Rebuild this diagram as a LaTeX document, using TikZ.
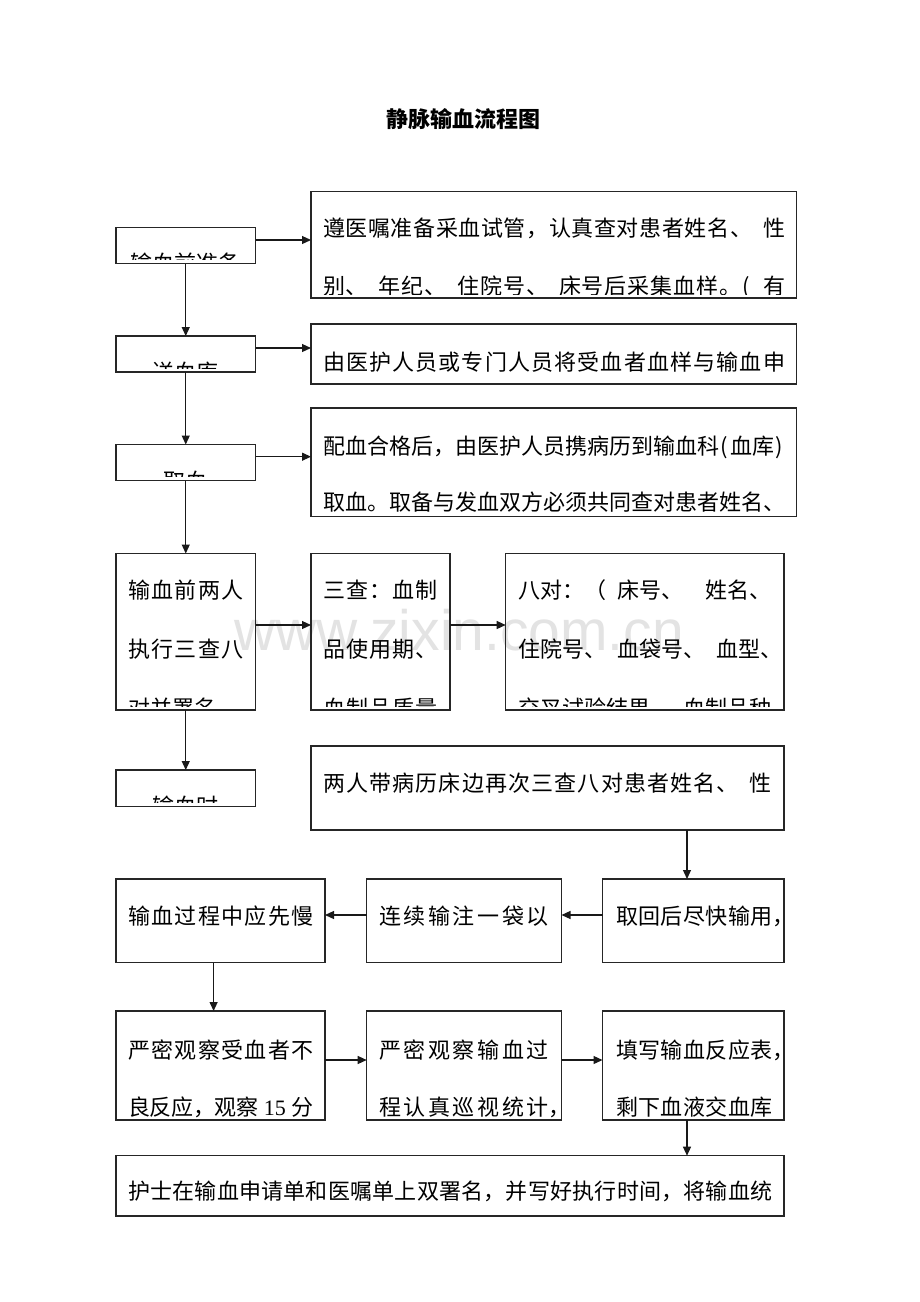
\documentclass[tikz,border=0pt]{standalone}
\usepackage{fontspec}
\setmainfont{Noto Sans CJK SC}
\newfontfamily\wmfont{Liberation Sans}
\newfontfamily\tnrfont{Liberation Serif}
\usetikzlibrary{arrows.meta}
\XeTeXinterchartokenstate=1
\newcount\cjkcnt
\cjkcnt="3000
\loop\ifnum\cjkcnt<"A000
  \XeTeXcharclass\cjkcnt=1
  \advance\cjkcnt by 1
\repeat
\cjkcnt="FF00
\loop\ifnum\cjkcnt<"FFF0
  \XeTeXcharclass\cjkcnt=1
  \advance\cjkcnt by 1
\repeat
\XeTeXinterchartoks 1 1 = {\hskip 0pt plus 1fil minus 1pt\relax}
\newcommand\kgsp{\hspace{11pt}}
\newcommand\hwc[1]{\makebox[11pt]{#1}}
\newcommand\jline[2]{\makebox[#1][s]{#2}}
\newcommand\boxclip[1]{\clip (#1.north west) rectangle ([yshift=4pt]#1.south east);}
\begin{document}
\begin{tikzpicture}[x=1pt,y=-1pt,
  box/.style={draw=black!85, line width=1.2pt, inner sep=0pt, outer sep=0pt, anchor=north west},
  txt/.style={anchor=base west, inner sep=0pt, outer sep=0pt, font=\fontsize{22}{22}\selectfont},
  ctxt/.style={txt, anchor=base},
  arr/.style={-{Triangle[length=9pt,width=8pt]}, line width=1.2pt, draw=black!90}]
\useasboundingbox (0,0) rectangle (920,1302);
\fill[white] (0,0) rectangle (920,1302);
% watermark
\node[anchor=base west, inner sep=0pt, text=black!11, font=\wmfont\fontsize{57}{57}\selectfont] (wm) at (234,650) {www.zixin.com.cn};
% title
\node[anchor=base, inner sep=0pt, font=\bfseries\fontsize{22}{22}\selectfont] (title) at (463.8,127) {静脉输血流程图};
% boxes
\node[box, minimum width=139.5pt, minimum height=36pt] (A1) at (116,227.5) {};
\node[box, minimum width=485.5pt, minimum height=106.5pt] (B1) at (311,191.5) {};
\node[box, minimum width=139.5pt, minimum height=36pt] (A2) at (116,336) {};
\node[box, minimum width=485.5pt, minimum height=60pt] (B2) at (311,324) {};
\node[box, minimum width=139.5pt, minimum height=36pt] (A3) at (116,444.5) {};
\node[box, minimum width=485.5pt, minimum height=108.5pt] (B3) at (311,408) {};
\node[box, minimum width=139.5pt, minimum height=156.5pt] (A4) at (116,553.5) {};
\node[box, minimum width=139pt, minimum height=156.5pt] (C4) at (311,553.5) {};
\node[box, minimum width=278.3pt, minimum height=156.5pt] (D4) at (505.7,553.5) {};
\node[box, minimum width=139.5pt, minimum height=36.5pt] (A5) at (116,770) {};
\node[box, minimum width=473pt, minimum height=84pt] (E5) at (311,746) {};
\node[box, minimum width=209pt, minimum height=83.7pt] (R6a) at (116,879) {};
\node[box, minimum width=194.8pt, minimum height=83.7pt] (R6b) at (366.7,879) {};
\node[box, minimum width=181.5pt, minimum height=83.7pt] (R6c) at (602.5,879) {};
\node[box, minimum width=209pt, minimum height=109pt] (R7a) at (116,1011) {};
\node[box, minimum width=194.8pt, minimum height=109pt] (R7b) at (366.7,1011) {};
\node[box, minimum width=181.5pt, minimum height=109pt] (R7c) at (602.5,1011) {};
\node[box, minimum width=668pt, minimum height=60.3pt] (R8) at (116,1155.7) {};
% texts
\begin{scope}\boxclip{A1}
  \node[ctxt] (tA1) at (185.75,271.5) {输血前准备};
\end{scope}
\begin{scope}\boxclip{B1}
  \node[txt] (tB1a) at (323,236) {\jline{462pt}{遵医嘱准备采血试管，认真查对患者姓名、\kgsp 性}};
  \node[txt] (tB1b) at (323,294.5) {\jline{462pt}{别、\kgsp 年纪、\kgsp 住院号、\kgsp 床号后采集血样。\hwc{(}\kgsp 有}};
\end{scope}
\begin{scope}\boxclip{A2}
  \node[ctxt] (tA2) at (185.75,380.5) {送血库};
\end{scope}
\begin{scope}\boxclip{B2}
  \node[txt] (tB2) at (323,370) {\jline{462pt}{由医护人员或专门人员将受血者血样与输血申}};
\end{scope}
\begin{scope}\boxclip{A3}
  \node[ctxt] (tA3) at (185.75,489.5) {取血};
\end{scope}
\begin{scope}\boxclip{B3}
  \node[txt] (tB3a) at (323,454) {\jline{462pt}{配血合格后，由医护人员携病历到输血科\hwc{(}血库\hwc{)}}};
  \node[txt] (tB3b) at (323,510.5) {\jline{462pt}{取血。取备与发血双方必须共同查对患者姓名、}};
\end{scope}
\begin{scope}\boxclip{A4}
  \node[txt] (tA4a) at (128.3,598) {\jline{115pt}{输血前两人}};
  \node[txt] (tA4b) at (128.3,657.5) {\jline{115pt}{执行三查八}};
  \node[txt] (tA4c) at (128.3,716) {对并署名};
\end{scope}
\begin{scope}\boxclip{C4}
  \node[txt] (tC4a) at (323,598) {\jline{115pt}{三查：血制}};
  \node[txt] (tC4b) at (323,657.5) {\jline{115pt}{品使用期、}};
  \node[txt] (tC4c) at (323,716) {\jline{115pt}{血制品质量}};
\end{scope}
\begin{scope}\boxclip{D4}
  \node[txt] (tD4a) at (518,598) {八对：（\kgsp 床号、\kgsp\kgsp 姓名、};
  \node[txt] (tD4b) at (518,657.5) {住院号、\kgsp 血袋号、\kgsp 血型、};
  \node[txt] (tD4c) at (518,716) {交叉试验结果、\kgsp 血制品种};
\end{scope}
\begin{scope}\boxclip{A5}
  \node[ctxt] (tA5) at (185.75,814.5) {输血时};
\end{scope}
\begin{scope}\boxclip{E5}
  \node[txt] (tE5) at (323,791) {\jline{449pt}{两人带病历床边再次三查八对患者姓名、\kgsp 性}};
\end{scope}
\node[txt] (tR6a) at (128.3,924.5) {\jline{185pt}{输血过程中应先慢}};
\node[txt] (tR6b) at (379,924.5) {\jline{170pt}{连续输注一袋以}};
\node[txt] (tR6c) at (616,924.5) {\jline{157pt}{取回后尽快输用\rlap{，}}};
\node[txt] (tR7a1) at (128.3,1058) {\jline{185pt}{严密观察受血者不}};
\node[txt] (tR7a2) at (128.3,1115) {\jline{185pt}{良反应，观察\hspace{5.5pt}{\tnrfont 15}\hspace{5.5pt}分}};
\node[txt] (tR7b1) at (379,1058) {\jline{170pt}{严密观察输血过}};
\node[txt] (tR7b2) at (379,1115) {\jline{170pt}{程认真巡视统计\rlap{，}}};
\node[txt] (tR7c1) at (616,1058) {\jline{157pt}{填写输血反应表\rlap{，}}};
\node[txt] (tR7c2) at (616,1115) {\jline{157pt}{剩下血液交血库}};
\node[txt] (tR8) at (128.3,1199.5) {\jline{644pt}{护士在输血申请单和医嘱单上双署名，并写好执行时间，将输血统}};
% connectors
\coordinate (h1) at (0,240);
\coordinate (h2) at (0,348);
\coordinate (h3) at (0,456.7);
\coordinate (h4) at (0,625);
\coordinate (h6) at (0,915);
\coordinate (h7) at (0,1060);
\coordinate (v1) at (687,0);
\coordinate (v2) at (213.6,0);
\draw[arr] (A1.east |- h1) -- (B1.west |- h1);
\draw[arr] (A2.east |- h2) -- (B2.west |- h2);
\draw[arr] (A3.east |- h3) -- (B3.west |- h3);
\draw[arr] (A4.east |- h4) -- (C4.west |- h4);
\draw[arr] (C4.east |- h4) -- (D4.west |- h4);
\draw[arr] (A1.south) -- (A2.north);
\draw[arr] (A2.south) -- (A3.north);
\draw[arr] (A3.south) -- (A4.north);
\draw[arr] (A4.south) -- (A5.north);
\draw[arr] (E5.south -| v1) -- (R6c.north -| v1);
\draw[arr] (R6c.west |- h6) -- (R6b.east |- h6);
\draw[arr] (R6b.west |- h6) -- (R6a.east |- h6);
\draw[arr] (R6a.south -| v2) -- (R7a.north -| v2);
\draw[arr] (R7a.east |- h7) -- (R7b.west |- h7);
\draw[arr] (R7b.east |- h7) -- (R7c.west |- h7);
\draw[arr] (R7c.south -| v1) -- (R8.north -| v1);
\end{tikzpicture}
\end{document}
